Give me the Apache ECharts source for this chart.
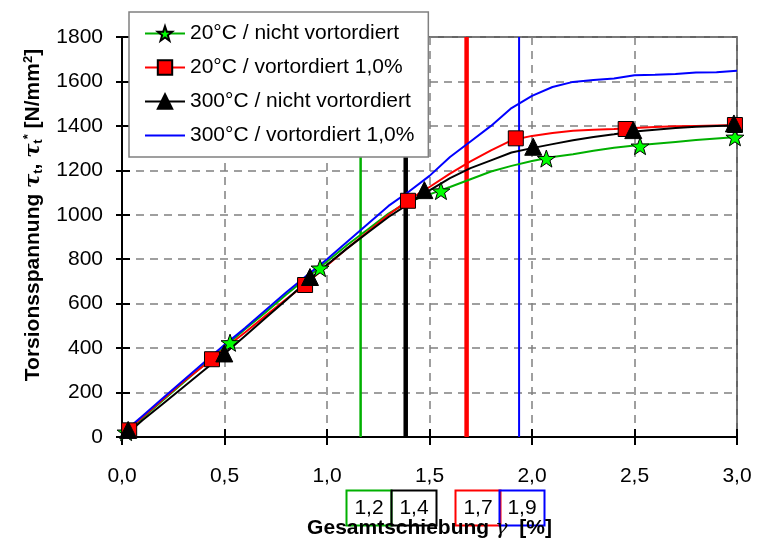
<!DOCTYPE html>
<html>
<head>
<meta charset="utf-8">
<script src="https://cdn.jsdelivr.net/npm/echarts@6/dist/echarts.min.js"></script>
<style>
html, body { margin: 0; padding: 0; background: #fff; }
#chart { width: 758px; height: 540px; }
</style>
</head>
<body>
<div id="chart"></div>
<script>
// curve data (Gesamtschiebung in %, Torsionsspannung in N/mm2)
const curveX = [0.0, 0.05, 0.1, 0.2, 0.3, 0.4, 0.5, 0.6, 0.7, 0.8, 0.9, 1.0, 1.1, 1.2, 1.3, 1.4, 1.5, 1.6,
                1.7, 1.8, 1.9, 2.0, 2.1, 2.2, 2.3, 2.4, 2.5, 2.6, 2.7, 2.8, 2.9, 3.0];
const green20 = [10, 45, 85, 165, 245, 325, 405, 485, 560, 640, 715, 790, 865, 935, 1005, 1060, 1092, 1125,
                 1160, 1195, 1220, 1242, 1260, 1272, 1288, 1302, 1312, 1320, 1328, 1336, 1343, 1350];
const red20 = [15, 50, 90, 170, 250, 322, 398, 470, 545, 620, 690, 772, 850, 925, 1000, 1068, 1125, 1185,
               1240, 1290, 1335, 1355, 1368, 1378, 1383, 1386, 1390, 1395, 1398, 1400, 1402, 1404];
const black300 = [5, 35, 75, 150, 225, 300, 375, 455, 535, 615, 700, 775, 850, 920, 990, 1050, 1110, 1165,
                  1210, 1245, 1280, 1300, 1318, 1335, 1350, 1362, 1375, 1383, 1390, 1396, 1400, 1402];
const blue300 = [20, 55, 95, 175, 255, 335, 415, 490, 570, 650, 725, 800, 880, 960, 1040, 1105, 1175, 1260,
                 1330, 1400, 1480, 1535, 1575, 1598, 1606, 1613, 1628, 1630, 1633, 1640, 1641, 1648];

// marker points
const greenMarkX = [0.02, 0.527, 0.966, 1.556, 2.07, 2.527, 2.99];
const greenMarkY = [22, 424, 760, 1107, 1253, 1309, 1349];
const redMarkX = [0.035, 0.439, 0.893, 1.395, 1.921, 2.457, 2.99];
const redMarkY = [30, 350, 684, 1063, 1344, 1386, 1404];
const blackMarkX = [0.03, 0.499, 0.917, 1.475, 2.006, 2.494, 2.985];
const blackMarkY = [32, 376, 720, 1111, 1306, 1381, 1411];

// vertical marks and their labels
const vLineX = [1.164, 1.384, 1.681, 1.937];
const vLineLabels = ['1,2', '1,4', '1,7', '1,9'];
const vLineColors = ['#00b000', '#000000', '#ff0000', '#0000ff'];
const vLineWidths = [2.5, 4.5, 4.5, 2];

const seriesNames = ['20°C / nicht vortordiert', '20°C / vortordiert 1,0%',
                     '300°C / nicht vortordiert', '300°C / vortordiert 1,0%'];

const starPath = 'path://M0,-10L2.35,-3.24L9.51,-3.09L3.8,1.24L5.88,8.09L0,4L-5.88,8.09L-3.8,1.24L-9.51,-3.09L-2.35,-3.24Z';
const FONT = 'Liberation Sans, Arial, sans-serif';

const chart = echarts.init(document.getElementById('chart'));

const pairs = (xs, ys) => xs.map((x, i) => [x, ys[i]]);

const lineSeries = (name, ys, color, symbol, size, fill) => ({
  name: name,
  type: 'line',
  data: pairs(curveX, ys),
  showSymbol: false,
  symbol: symbol,
  symbolSize: size,
  symbolKeepAspect: true,
  itemStyle: { color: fill, borderColor: '#000', borderWidth: 1 },
  lineStyle: { color: color, width: 2 },
  color: color,
  z: 3,
  silent: true
});

const markerSeries = (xs, ys, symbol, size, fill) => ({
  type: 'scatter',
  data: pairs(xs, ys),
  symbol: symbol,
  symbolSize: size,
  symbolKeepAspect: true,
  itemStyle: { color: fill, borderColor: '#000', borderWidth: 1, opacity: 1 },
  z: 5,
  silent: true
});

const vSeries = vLineX.map((x, i) => ({
  type: 'line',
  data: [[x, 0], [x, 1800]],
  showSymbol: false,
  symbol: 'none',
  lineStyle: { color: vLineColors[i], width: vLineWidths[i] },
  z: 2,
  silent: true
}));

// boxes with the values of the vertical marks, under the x axis
const boxLeft = [344, 389, 453, 497];
const boxGraphics = vLineLabels.map((t, i) => ({
  type: 'group',
  left: boxLeft[i],
  top: 488,
  children: [
    { type: 'rect', shape: { x: 0, y: 0, width: 45, height: 35 },
      style: { fill: 'none', stroke: vLineColors[i], lineWidth: 2 } },
    { type: 'text', x: 22.5, y: 17.5,
      style: { text: t, fill: '#000', font: '21px ' + FONT, align: 'center', verticalAlign: 'middle' } }
  ]
}));

const fmt = v => v.toFixed(1).replace('.', ',');

const option = {
  animation: false,
  backgroundColor: '#fff',
  textStyle: { fontFamily: FONT },
  grid: {
    left: 122, right: 21, top: 37, bottom: 103,
    outerBoundsMode: 'none', containLabel: false,
    show: true, borderColor: '#333', borderWidth: 1.5
  },
  legend: {
    data: [
      { name: seriesNames[0] },
      { name: seriesNames[1] },
      { name: seriesNames[2] },
      { name: seriesNames[3], itemStyle: { color: 'rgba(0,0,0,0)', borderColor: 'rgba(0,0,0,0)', borderWidth: 0 } }
    ],
    orient: 'vertical',
    left: 129,
    top: 12,
    padding: [11, 14, 11, 15],
    itemWidth: 40,
    itemHeight: 18,
    itemGap: 13,
    backgroundColor: '#fff',
    borderColor: '#808080',
    borderWidth: 1.5,
    borderRadius: 0,
    selectedMode: false,
    textStyle: { fontSize: 21, color: '#000', fontFamily: FONT },
    z: 10
  },
  xAxis: [{
    type: 'value', min: 0, max: 3, interval: 0.5,
    name: 'Gesamtschiebung {g|γ}  [%]',
    nameLocation: 'middle',
    nameGap: 81,
    nameTextStyle: {
      fontSize: 21, fontWeight: 'bold', color: '#000', fontFamily: FONT,
      rich: { g: { fontFamily: 'DejaVu Serif', fontStyle: 'italic', fontSize: 21, fontWeight: 'normal' } }
    },
    axisLine: { show: true, onZero: false, lineStyle: { color: '#000', width: 2 } },
    axisTick: { show: true, length: 8, lineStyle: { color: '#000', width: 2 } },
    axisLabel: { fontSize: 21, color: '#000', margin: 29, formatter: fmt },
    splitLine: { show: true, lineStyle: { color: '#808080', type: [8, 6], width: 1.5 } }
  }, {
    type: 'value', min: 0, max: 3, interval: 0.5, position: 'bottom',
    axisLine: { show: false },
    axisTick: { show: true, inside: true, length: 8, lineStyle: { color: '#000', width: 2 } },
    axisLabel: { show: false },
    splitLine: { show: false }
  }],
  yAxis: [{
    type: 'value', min: 0, max: 1800, interval: 200,
    name: 'Torsionsspannung {g|τ}{sb|t}, {g|τ}{sb|t}{sp|*} [N/mm{sp|2}]',
    nameLocation: 'middle',
    nameGap: 77,
    nameTextStyle: {
      fontSize: 21, fontWeight: 'bold', color: '#000', fontFamily: FONT,
      padding: [0, 0, 0, 44],
      rich: {
        g: { fontFamily: 'DejaVu Serif', fontStyle: 'italic', fontWeight: 'bold', fontSize: 21 },
        sb: { fontSize: 13, fontWeight: 'bold', padding: [10, 0, 0, 0] },
        sp: { fontSize: 13, fontWeight: 'bold', padding: [0, 0, 10, 0] }
      }
    },
    axisLine: { show: true, onZero: false, lineStyle: { color: '#000', width: 2 } },
    axisTick: { show: true, length: 6, lineStyle: { color: '#000', width: 2 } },
    axisLabel: { fontSize: 21, color: '#000', margin: 19, formatter: v => String(v) },
    splitLine: { show: true, lineStyle: { color: '#808080', type: [8, 6], width: 1.5 } }
  }, {
    type: 'value', min: 0, max: 1800, interval: 200, position: 'left',
    axisLine: { show: false },
    axisTick: { show: true, inside: true, length: 8, lineStyle: { color: '#000', width: 2 } },
    axisLabel: { show: false },
    splitLine: { show: false }
  }],
  series: [
    ...vSeries,
    lineSeries(seriesNames[0], green20, '#00b000', starPath, 17, '#00ff00'),
    lineSeries(seriesNames[1], red20, '#ff0000', 'rect', 15, '#ff0000'),
    lineSeries(seriesNames[2], black300, '#000000', 'triangle', 17, '#000000'),
    lineSeries(seriesNames[3], blue300, '#0000ff', 'none', 0, '#0000ff'),
    markerSeries(greenMarkX, greenMarkY, starPath, 18, '#00ff00'),
    markerSeries(redMarkX, redMarkY, 'rect', 15, '#ff0000'),
    markerSeries(blackMarkX, blackMarkY, 'triangle', 17, '#000000')
  ],
  graphic: boxGraphics
};

chart.setOption(option);
</script>
</body>
</html>
